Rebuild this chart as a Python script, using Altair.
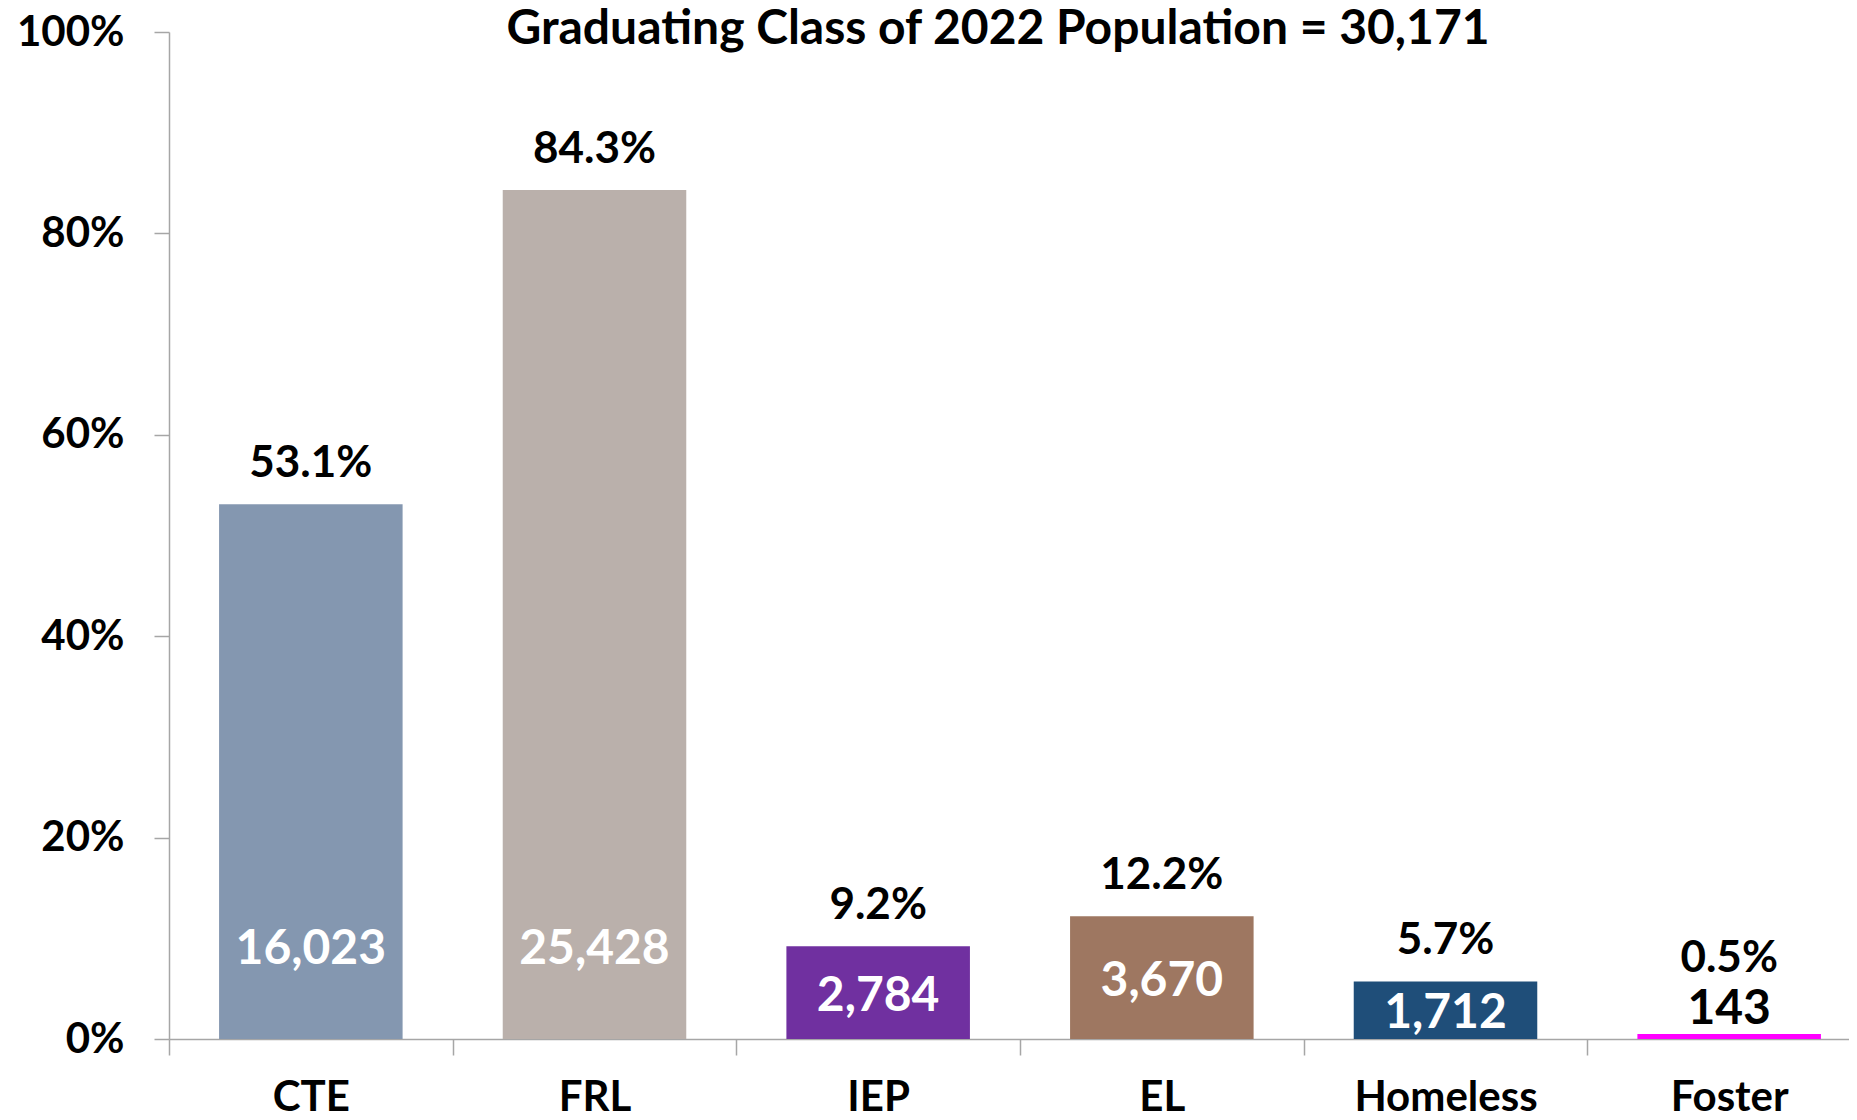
import altair as alt
import pandas as pd

categories = ["CTE", "FRL", "IEP", "EL", "Homeless", "Foster"]
pct = [53.1, 84.3, 9.2, 12.2, 5.7, 0.5]
counts = [16023, 25428, 2784, 3670, 1712, 143]
colors = ["#8497B0", "#BAB0AB", "#7030A0", "#9E7761", "#1F4E79", "#FF00FF"]
title_text = "Graduating Class of 2022 Population = 30,171"
y_ticks = [0, 20, 40, 60, 80, 100]

df = pd.DataFrame({"cat": categories, "pct": pct, "count": counts})

FONT = "Lato"
AX_FS = 42
LBL_FS = 44
CNT_FS = 48
TITLE_FS = 48

x_enc = alt.X(
    "cat:N",
    sort=categories,
    scale=alt.Scale(paddingInner=0, paddingOuter=0, range=[0, 1702]),
    axis=alt.Axis(
        title=None, labelAngle=0, tickBand="extent", tickSize=16, labelLimit=0,
        domainColor="#A6A6A6", tickColor="#A6A6A6", domainWidth=1.5, tickWidth=1.5,
        labelFont=FONT, labelFontSize=AX_FS, labelFontWeight="bold", labelColor="#000000",
        labelPadding=22,
    ),
)

base = alt.Chart(df).transform_calculate(
    pct_label="format(datum.pct, '.1f') + '%'",
    pct_y="datum.pct < 1 ? datum.pct + 7.4 : datum.pct + 4.0",
    cnt_y="datum.pct < 1 ? datum.pct + 2.4 : min(datum.pct / 2 - 0.4, 8.8)",
)

bars = base.mark_bar(width=alt.RelativeBandSize(0.647)).encode(
    x=x_enc,
    y=alt.Y(
        "pct:Q",
        scale=alt.Scale(domain=[0, 100], nice=False),
        axis=alt.Axis(
            title=None, values=y_ticks, labelExpr="datum.value + '%'", grid=False,
            tickSize=15, domainColor="#A6A6A6", tickColor="#A6A6A6",
            domainWidth=1.5, tickWidth=1.5,
            labelFont=FONT, labelFontSize=AX_FS, labelFontWeight="bold", labelColor="#000000",
            labelPadding=30,
        ),
    ),
    color=alt.Color("cat:N", scale=alt.Scale(domain=categories, range=colors), legend=None),
)

pct_text = base.mark_text(font=FONT, fontSize=LBL_FS, fontWeight="bold", baseline="middle",
                          color="#000000").encode(
    x=alt.X("cat:N", sort=categories),
    y=alt.Y("pct_y:Q"),
    text="pct_label:N",
)

cnt_text = base.mark_text(font=FONT, fontSize=CNT_FS, fontWeight="bold", baseline="middle").encode(
    x=alt.X("cat:N", sort=categories),
    y=alt.Y("cnt_y:Q"),
    text=alt.Text("count:Q", format=","),
    color=alt.condition("datum.pct < 1", alt.value("#000000"), alt.value("#FFFFFF")),
)

title = alt.Chart(pd.DataFrame({"t": [title_text]})).mark_text(
    font=FONT, fontSize=TITLE_FS, fontWeight="bold", baseline="middle", align="center", color="#000000"
).encode(x=alt.value(829), y=alt.value(-2), text="t:N")

chart = alt.layer(bars, pct_text, cnt_text, title).properties(
    width=1680, height=1007,
    autosize=alt.AutoSizeParams(type="none"),
    padding={"left": 161, "top": 24, "right": 0, "bottom": 80},
).configure_view(stroke=None)

chart.save("out.html", embed_options={"renderer": "svg", "actions": False})
